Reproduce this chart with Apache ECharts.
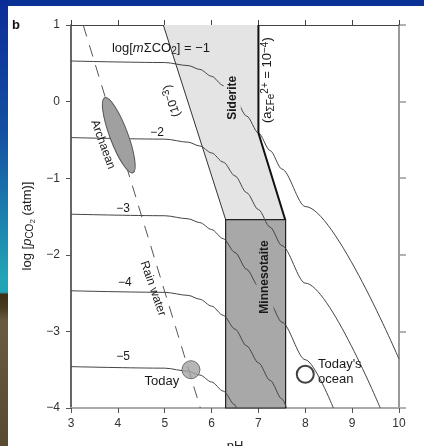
<!DOCTYPE html>
<html>
<head>
<meta charset="utf-8">
<script src="https://cdn.jsdelivr.net/npm/echarts@6/dist/echarts.min.js"></script>
<style>
  html, body { margin: 0; padding: 0; background: #fff; }
  #chart { width: 424px; height: 446px; }
</style>
</head>
<body>
<div id="chart"></div>
<script>
var chart = echarts.init(document.getElementById('chart'), null, { renderer: 'canvas' });

// axes
const xTicks = [3, 4, 5, 6, 7, 8, 9, 10];
const yTicks = [-4, -3, -2, -1, 0, 1];

// log[mΣCO2] iso-lines, [pH, log pCO2]
const co2Minus1 = [[3, 0.53], [5, 0.51], [5.5, 0.47], [5.75, 0.42], [6, 0.33], [6.25, 0.21], [6.5, 0.03], [6.75, -0.19], [7, -0.41], [7.25, -0.64], [7.5, -0.88], [8, -1.37], [10, -3.36]];
const co2Minus2 = [[3, -0.47], [5, -0.49], [5.5, -0.53], [5.75, -0.58], [6, -0.67], [6.25, -0.79], [6.5, -0.97], [6.75, -1.19], [7, -1.41], [7.25, -1.64], [7.5, -1.88], [8, -2.37], [9.6, -4]];
const co2Minus3 = [[3, -1.47], [5, -1.49], [5.5, -1.53], [5.75, -1.58], [6, -1.67], [6.25, -1.79], [6.5, -1.97], [6.75, -2.19], [7, -2.41], [7.25, -2.64], [7.5, -2.88], [8, -3.37], [8.6, -4]];
const co2Minus4 = [[3, -2.47], [5, -2.49], [5.5, -2.53], [5.75, -2.58], [6, -2.67], [6.25, -2.79], [6.5, -2.97], [6.75, -3.19], [7, -3.41], [7.25, -3.64], [7.5, -3.88], [7.6, -4]];
const co2Minus5 = [[3, -3.46], [5, -3.48], [5.5, -3.52], [5.75, -3.57], [6, -3.66], [6.25, -3.78], [6.5, -3.96], [6.53, -4]];

// other lines
const rainWater = [[3.26, 1], [5.76, -4]];
const sideriteLeft = [[4.97, 1], [6.3, -1.54]];
const feBoundary = [[7, 1], [7, -0.41], [7.57, -1.54]];

// fields
const sideriteField = [[4.97, 1], [7, 1], [7, -0.41], [7.57, -1.54], [6.3, -1.54]];
const minnesotaiteField = [[6.3, -1.54], [7.58, -1.54], [7.58, -4], [6.3, -4]];

// points
const archaean = [[3.72, 0.05], [4.32, -0.93]]; // ends of the ellipse
const today = [[5.56, -3.5]];
const todaysOcean = [[8.0, -3.56]];

// annotation texts and where they sit (pH, log pCO2), angle in degrees
const labelTexts = [
    'log[{i|m}ΣCO{sub|2}] = −1', '−2', '−3', '−4', '−5',
    'Archaean', 'Rain water', '(10{sup|−3})', 'Siderite',
    '(a{sub|ΣFe}{sup|2+} = 10{sup|−4})', 'Minnesotaite', 'Today', "Today's\nocean"
];
const labelAnchors = [
    [4.92, 0.69], [4.835, -0.41], [4.11, -1.40], [4.15, -2.36], [4.11, -3.33],
    [3.68, -0.56], [4.75, -2.44], [5.155, 0.01], [6.44, 0.05],
    [7.2, 0.28], [7.14, -2.29], [4.94, -3.65], [8.27, -3.53]
];
const labelAngles = [0, 0, 0, 0, 0, -70, -71, 108, 90, 90, 90, 0, 0];
const yTitle = 'log [{i|p}{sub|CO}{sub2|2} (atm)]';

const FONT = '"Liberation Sans", Arial, Helvetica, sans-serif';
const rich = {
    i: { fontStyle: 'italic', fontSize: 13, lineHeight: 17, fontFamily: FONT },
    sub: { fontSize: 10, lineHeight: 12, padding: [6, 0, 0, 0], fontFamily: FONT },
    sup: { fontSize: 10, lineHeight: 12, padding: [0, 0, 6, 0], fontFamily: FONT },
    sub2: { fontSize: 8, lineHeight: 9, padding: [12, 0, 0, 0], fontFamily: FONT }
};

function fmtMinus(v) { return String(v).replace('-', '−'); }

function curve(data) {
    return {
        type: 'line', data: data, showSymbol: false, smooth: 0.3, smoothMonotone: 'x',
        lineStyle: { color: '#444', width: 1 }, z: 3, silent: true, animation: false
    };
}

function polygonSeries(points, fill, stroke, z) {
    return {
        type: 'custom', z: z, silent: true, animation: false,
        data: [[5, 0]],
        renderItem: function (params, api) {
            return {
                type: 'polygon',
                shape: { points: points.map(p => api.coord(p)) },
                style: { fill: fill, stroke: stroke || null, lineWidth: stroke ? 1.2 : 0 }
            };
        }
    };
}

chart.setOption({
    backgroundColor: '#fff',
    animation: false,
    graphic: [
        { type: 'rect', shape: { x: 0, y: 0, width: 424, height: 6 }, style: { fill: '#0a3296' }, z: 100 },
        {
            type: 'rect', shape: { x: 0, y: 0, width: 8, height: 446 }, z: 100,
            style: {
                fill: new echarts.graphic.LinearGradient(0, 0, 0, 1, [
                    { offset: 0, color: '#0b2c98' },
                    { offset: 0.3, color: '#1450a2' },
                    { offset: 0.62, color: '#22a4b6' },
                    { offset: 0.655, color: '#22a4b6' },
                    { offset: 0.66, color: '#3e2e14' },
                    { offset: 0.69, color: '#4a3a1e' },
                    { offset: 0.72, color: '#6a5a40' },
                    { offset: 1, color: '#5a4a30' }
                ])
            }
        },
        { type: 'text', left: 12, top: 19, style: { text: 'b', font: 'bold 13px ' + FONT, fill: '#111' } },
        {
            type: 'text', x: 27, y: 226, rotation: Math.PI / 2,
            style: {
                text: yTitle, rich: rich, fill: '#222', fontSize: 13, fontFamily: FONT,
                lineHeight: 17, align: 'center', verticalAlign: 'middle'
            }
        }
    ],
    grid: { left: 71, right: 25, top: 25, bottom: 38, outerBoundsMode: 'none' },
    xAxis: [{
        type: 'value', min: xTicks[0], max: xTicks[xTicks.length - 1], interval: 1,
        name: 'pH', nameLocation: 'middle', nameGap: 32,
        nameTextStyle: { fontSize: 13, color: '#222', fontFamily: FONT },
        axisLine: { show: true, onZero: false, lineStyle: { color: '#aaa', width: 2 } },
        axisTick: { show: true, inside: false, length: 5, lineStyle: { color: '#555' } },
        axisLabel: { fontSize: 12, color: '#333', margin: 10, fontFamily: FONT },
        splitLine: { show: false }
    }, {
        type: 'value', position: 'top', min: 3, max: 10, interval: 1,
        axisLine: { show: true, onZero: false, lineStyle: { color: '#444', width: 1 } },
        axisTick: { show: true, inside: false, length: 5, lineStyle: { color: '#444' } },
        axisLabel: { show: false }, splitLine: { show: false }
    }],
    yAxis: [{
        type: 'value', min: yTicks[0], max: yTicks[yTicks.length - 1], interval: 1,
        axisLine: { show: true, onZero: false, lineStyle: { color: '#333', width: 1.5 } },
        axisTick: { show: true, inside: false, length: 5, lineStyle: { color: '#555' } },
        axisLabel: { fontSize: 12, color: '#333', margin: 11, fontFamily: FONT, formatter: fmtMinus },
        splitLine: { show: false }
    }, {
        type: 'value', position: 'right', min: -4, max: 1, interval: 1,
        axisLine: { show: true, onZero: false, lineStyle: { color: '#999', width: 2 } },
        axisTick: { show: true, inside: false, length: 7, lineStyle: { color: '#999', width: 1.5 } },
        axisLabel: { show: false }, splitLine: { show: false }
    }],
    series: [
        polygonSeries(sideriteField, '#e4e4e4', null, 1),
        polygonSeries(minnesotaiteField, '#a8a8a8', '#222', 2),
        curve(co2Minus1), curve(co2Minus2), curve(co2Minus3), curve(co2Minus4), curve(co2Minus5),
        {
            type: 'line', data: rainWater, showSymbol: false, z: 3, silent: true,
            lineStyle: { color: '#555', width: 1, type: [12, 9] }
        },
        { type: 'line', data: sideriteLeft, showSymbol: false, z: 4, silent: true, lineStyle: { color: '#333', width: 1 } },
        { type: 'line', data: feBoundary, showSymbol: false, z: 4, silent: true, lineStyle: { color: '#111', width: 2 } },
        {
            type: 'custom', z: 5, silent: true,
            data: [[archaean[0][0], archaean[0][1], archaean[1][0], archaean[1][1]]],
            renderItem: function (params, api) {
                var a = api.coord([api.value(0), api.value(1)]);
                var b = api.coord([api.value(2), api.value(3)]);
                var len = Math.hypot(b[0] - a[0], b[1] - a[1]);
                return {
                    type: 'ellipse',
                    x: (a[0] + b[0]) / 2, y: (a[1] + b[1]) / 2,
                    rotation: -Math.atan2(b[1] - a[1], b[0] - a[0]),
                    shape: { cx: 0, cy: 0, rx: len / 2, ry: 9 },
                    style: { fill: '#a0a0a0', stroke: '#555', lineWidth: 1 }
                };
            }
        },
        {
            type: 'scatter', data: today, symbol: 'circle', symbolSize: 18, z: 6, silent: true,
            itemStyle: { color: '#a4a4a4', borderColor: '#555', borderWidth: 1 }
        },
        {
            type: 'scatter', data: todaysOcean, symbol: 'circle', symbolSize: 17, z: 6, silent: true,
            itemStyle: { color: '#fff', borderColor: '#111', borderWidth: 2 }
        },
        {
            type: 'custom', z: 10, silent: true,
            data: labelAnchors.map((p, i) => [p[0], p[1], i]),
            renderItem: function (params, api) {
                var i = api.value(2);
                var pt = api.coord([api.value(0), api.value(1)]);
                var text = labelTexts[i];
                var bold = text === 'Siderite' || text === 'Minnesotaite';
                var multi = text.indexOf('\n') >= 0;
                var style = {
                    text: text, rich: rich,
                    fill: '#1a1a1a', fontSize: 12, fontFamily: FONT, fontWeight: bold ? 'bold' : 'normal',
                    lineHeight: multi ? 15 : 17,
                    align: multi ? 'left' : 'center', verticalAlign: 'middle'
                };
                if (text === 'Today' || multi || i === 0 || i === 9) style.fontSize = 13;
                if (text === 'Siderite') { style.backgroundColor = '#e4e4e4'; style.padding = [0, 4]; }
                if (text === 'Minnesotaite') { style.backgroundColor = '#a8a8a8'; style.padding = [0, 4]; }
                return {
                    type: 'text', x: pt[0], y: pt[1],
                    rotation: labelAngles[i] * Math.PI / 180,
                    style: style
                };
            }
        }
    ]
});
</script>
</body>
</html>
